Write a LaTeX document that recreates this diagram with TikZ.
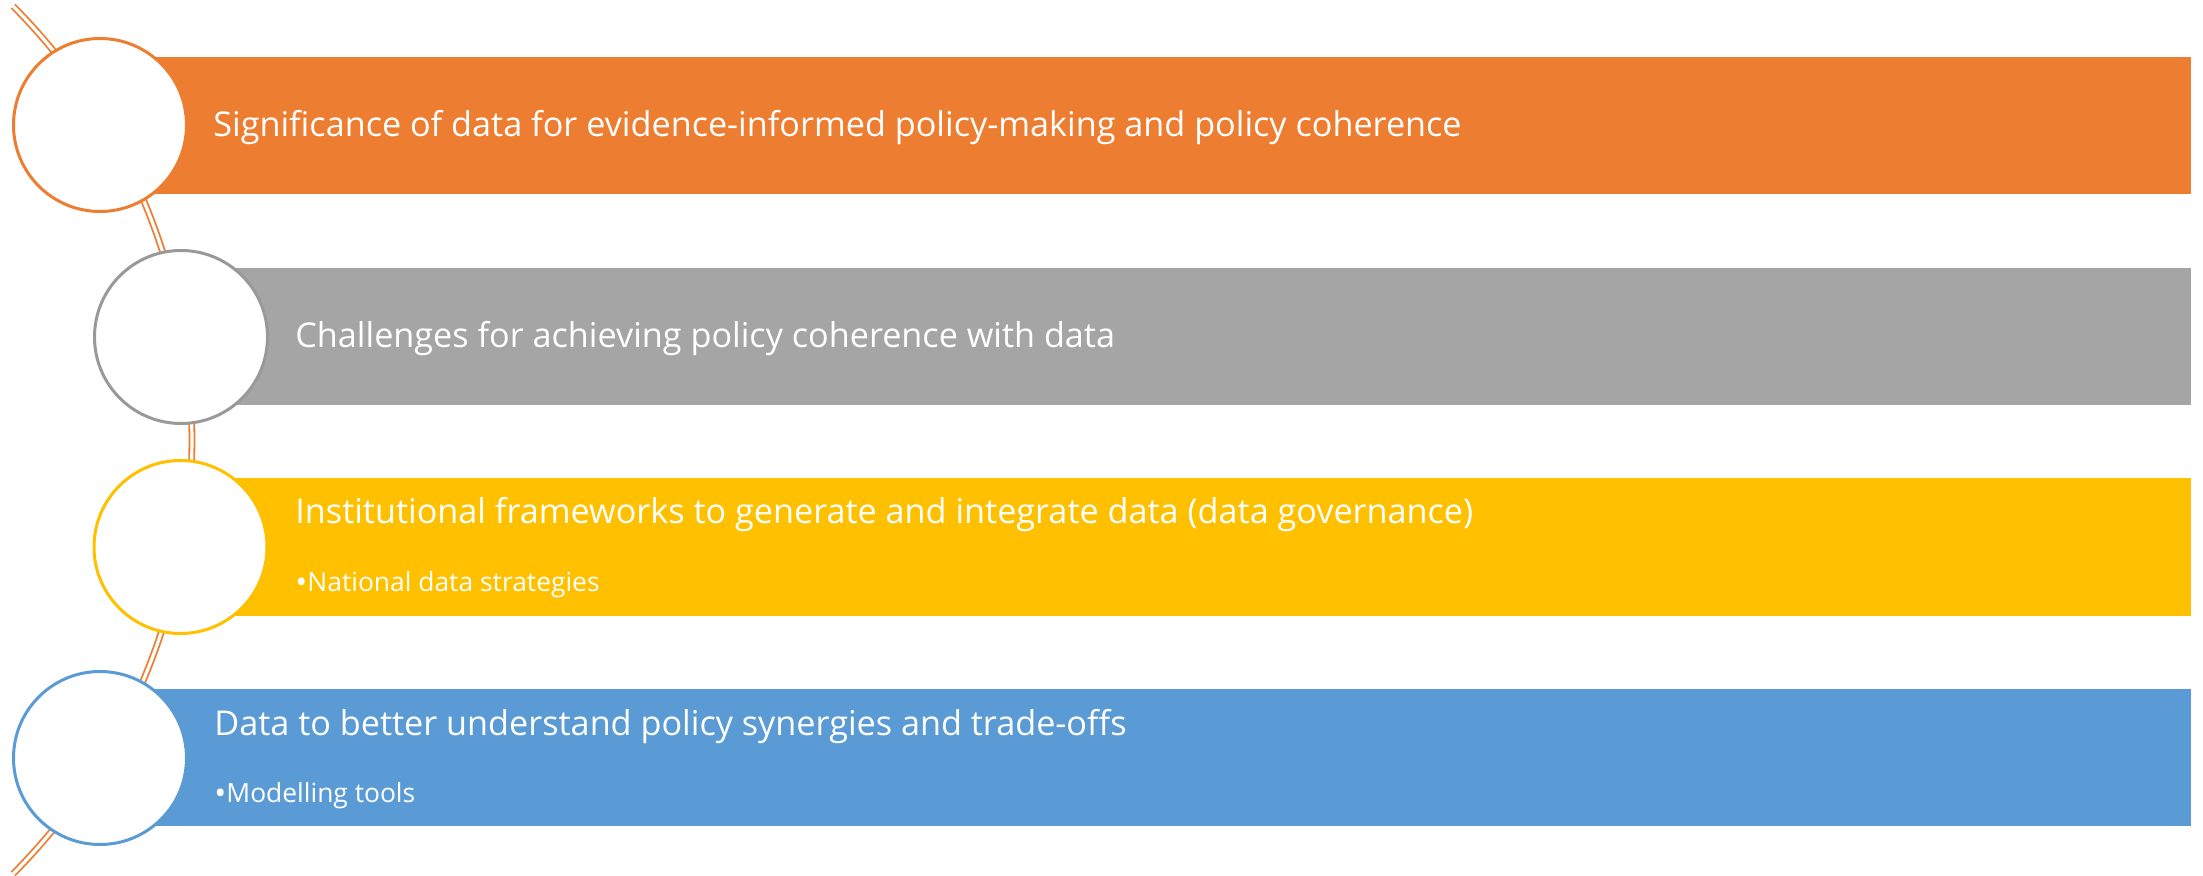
\documentclass[tikz,border=0pt]{standalone}
\usepackage{fontspec}
\setmainfont{Open Sans}
\definecolor{corange}{HTML}{ED7D31}
\definecolor{cgray}{HTML}{A5A5A5}
\definecolor{cgrayline}{HTML}{999999}
\definecolor{cyellow}{HTML}{FFC000}
\definecolor{cblue}{HTML}{5B9BD5}
\newcommand{\bul}{\raisebox{-1.3pt}{\fontsize{16}{16}\selectfont •}}
\tikzset{
  bar/.style={inner sep=0pt, outer sep=0pt, minimum width=1045.5pt, minimum height=68.5pt, anchor=north west},
  disc/.style={circle, fill=white, line width=1.5pt, minimum size=86.5pt, inner sep=0pt},
  maintxt/.style={text=white, anchor=base west, inner sep=0pt, font=\fontsize{17.1}{20}\selectfont},
  subtxt/.style={text=white, anchor=base west, inner sep=0pt, font=\fontsize{13.2}{16}\selectfont},
  rail/.style={draw=corange, line width=0.9pt, double=white, double distance=1.6pt}
}
\begin{document}
\begin{tikzpicture}[x=0.5pt,y=-0.5pt]
\useasboundingbox (0,0) rectangle (2203,876);
% rail arc
\coordinate (arcc) at (-423.6,440);
\draw[rail] (arcc) ++(-44.8:615.6) arc[start angle=-44.8, end angle=44.8, radius=615.6];
% bars
\node[bar, fill=corange] (r1) at (100,57) {};
\node[bar, fill=cgray, minimum width=1005pt] (r2) at (181,268) {};
\node[bar, fill=cyellow, minimum width=1005pt, minimum height=69pt] (r3) at (181,478) {};
\node[bar, fill=cblue] (r4) at (100,689) {};
% discs
\node[disc, draw=corange] (k1) at (100,125) {};
\node[disc, draw=cgrayline] (k2) at (181,337) {};
\node[disc, draw=cyellow] (k3) at (180.5,547) {};
\node[disc, draw=cblue] (k4) at (100,758) {};
% texts
\node[maintxt] (t1) at (213,137) {Significance of data for evidence-informed policy-making and policy coherence};
\node[maintxt] (t2) at (295,348) {Challenges for achieving policy coherence with data};
\node[maintxt] (t3) at (295,523) {Institutional frameworks to generate and integrate data (data governance)};
\node[subtxt] (s3) at (295,591) {\bul National data strategies};
\node[maintxt] (t4) at (214,735) {Data to better understand policy synergies and trade-offs};
\node[subtxt] (s4) at (214,802) {\bul Modelling tools};
\end{tikzpicture}
\end{document}
